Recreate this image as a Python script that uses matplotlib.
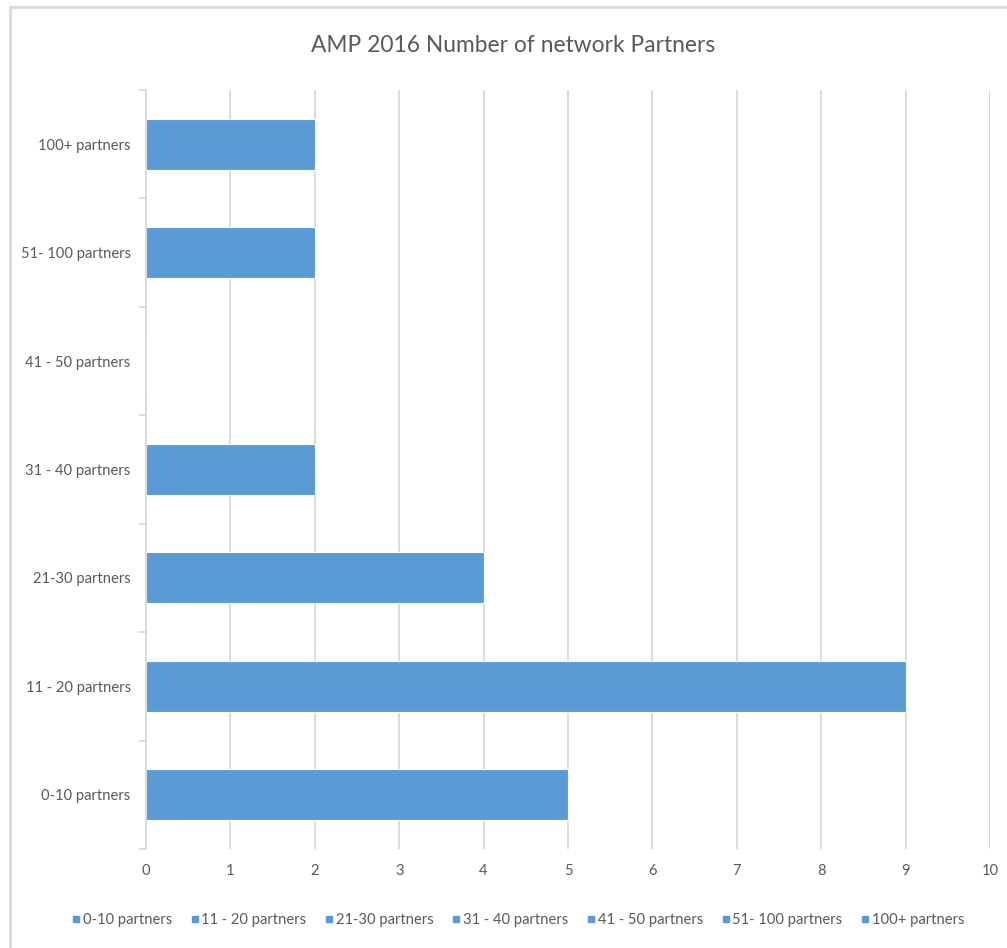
import matplotlib.pyplot as plt
from matplotlib.patches import Rectangle
from matplotlib.lines import Line2D

# 数据
categories = ['0-10 partners', '11 - 20 partners', '21-30 partners', '31 - 40 partners',
              '41 - 50 partners', '51- 100 partners', '100+ partners']
counts = [5, 9, 4, 2, 0, 2, 2]
x_ticks = [0, 1, 2, 3, 4, 5, 6, 7, 8, 9, 10]

bar_color = '#5B9BD5'
text_color = '#595959'
grid_color = '#D9D9D9'

plt.rcParams['font.family'] = ['Lato', 'DejaVu Sans']

fig = plt.figure(figsize=(10.07, 9.48), dpi=100)
W, H = 1007, 948

# 图表外框
fig.patches.append(Rectangle((10 / W, -0.1), 1.2, 1 - 7 / H + 0.1, transform=fig.transFigure,
                             fill=False, edgecolor='#D9D9D9', linewidth=2))

ax = fig.add_axes([146 / W, 1 - 849 / H, (990 - 146) / W, (849 - 90) / H])

pos = list(range(len(categories)))
ax.barh(pos, counts, height=0.47, color=bar_color, edgecolor='white', linewidth=0.8, zorder=2)

ax.set_xlim(0, 10)
ax.set_ylim(-0.5, len(categories) - 0.5)
ax.set_xticks(x_ticks)
ax.set_xticklabels([str(t) for t in x_ticks])
ax.set_yticks(pos)
ax.set_yticklabels(categories)
ax.set_yticks([p - 0.5 for p in range(len(categories) + 1)], minor=True)

ax.grid(axis='x', color=grid_color, linewidth=1.3, zorder=0)
ax.grid(axis='y', visible=False)
ax.set_axisbelow(True)
for side in ['top', 'right', 'bottom']:
    ax.spines[side].set_visible(False)
ax.spines['left'].set_color(grid_color)
ax.spines['left'].set_linewidth(1.3)
ax.spines['left'].set_zorder(3)

ax.tick_params(axis='x', length=0, pad=11, labelsize=10.6, labelcolor=text_color)
ax.tick_params(axis='y', which='major', length=0, pad=11, labelsize=10.6, labelcolor=text_color)
ax.tick_params(axis='y', which='minor', length=5, width=1.3, color=grid_color)

fig.text(513 / W, 1 - 45 / H, 'AMP 2016 Number of network Partners', ha='center', va='center',
         fontsize=16.4, color=text_color)

handles = [Line2D([], [], linestyle='none', marker='s', markersize=5, color=bar_color)
           for _ in categories]
fig.legend(handles, categories, loc='center', bbox_to_anchor=(518 / W, 1 - 920 / H), ncol=len(categories),
           frameon=False, fontsize=10.6, labelcolor=text_color, handletextpad=0.15, columnspacing=1.25,
           handlelength=0.6)

fig.savefig('out.png', dpi=100, facecolor='white')
